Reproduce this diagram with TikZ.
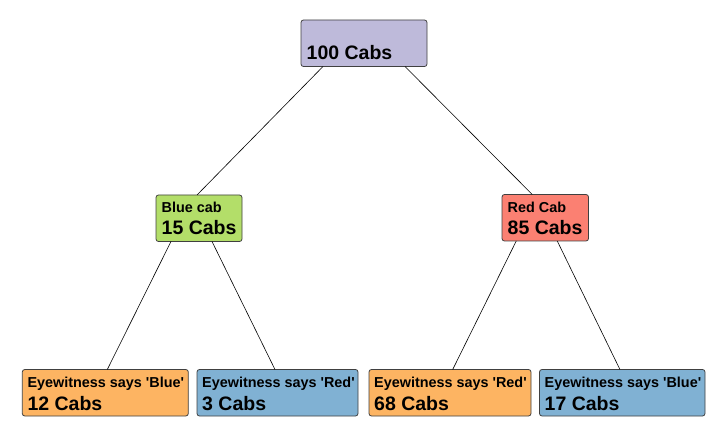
\documentclass[tikz,border=0pt]{standalone}
\usepackage{fontspec}
\setmainfont{Liberation Sans}[Ligatures=TeXOff]
\usetikzlibrary{calc}
\definecolor{cTop}{HTML}{BEBADA}
\definecolor{cGreen}{HTML}{B3DE69}
\definecolor{cRed}{HTML}{FB8072}
\definecolor{cOrange}{HTML}{FDB462}
\definecolor{cBlue}{HTML}{80B1D3}
\definecolor{cBorder}{HTML}{404040}
\tikzset{
  box/.style={draw=cBorder, line width=0.8pt, rounded corners=2.5pt, anchor=north west,
    minimum height=46.5pt, inner sep=0pt, outer sep=0pt},
  smalltxt/.style={anchor=base west, inner sep=0pt, font=\bfseries\fontsize{14.4}{16}\selectfont},
  bigtxt/.style={anchor=base west, inner sep=0pt, font=\bfseries\fontsize{19.5}{22}\selectfont},
  edgeline/.style={draw=black, line width=0.6pt}
}
\begin{document}
\begin{tikzpicture}[x=1pt,y=-1pt]
\useasboundingbox (0,0) rectangle (725,430);
% boxes
\node[box, fill=cTop, minimum width=126pt] (top) at (301,20) {};
\node[box, fill=cGreen, minimum width=86pt] (blue) at (156,195) {};
\node[box, fill=cRed, minimum width=86.5pt] (red) at (502,194.5) {};
\node[box, fill=cOrange, minimum width=166pt] (b1) at (22.3,369.5) {};
\node[box, fill=cBlue, minimum width=161pt] (b2) at (197,369.5) {};
\node[box, fill=cOrange, minimum width=162pt] (b3) at (369,369.5) {};
\node[box, fill=cBlue, minimum width=165.5pt] (b4) at (539.5,369.5) {};
% texts
\node[bigtxt] (topb) at ($(top.north west)+(5.5,39.5)$) {100 Cabs};
\node[smalltxt] (blues) at ($(blue.north west)+(5.5,17.5)$) {Blue cab};
\node[bigtxt] (blueb) at ($(blue.north west)+(5.5,40)$) {15 Cabs};
\node[smalltxt] (reds) at ($(red.north west)+(5.5,18)$) {Red Cab};
\node[bigtxt] (redb) at ($(red.north west)+(5.5,40.5)$) {85 Cabs};
\node[smalltxt] (b1s) at ($(b1.north west)+(5,18.3)$) {Eyewitness says 'Blue'};
\node[bigtxt] (b1b) at ($(b1.north west)+(5,40.7)$) {12 Cabs};
\node[smalltxt] (b2s) at ($(b2.north west)+(5,18.3)$) {Eyewitness says 'Red'};
\node[bigtxt] (b2b) at ($(b2.north west)+(5,40.7)$) {3 Cabs};
\node[smalltxt] (b3s) at ($(b3.north west)+(5,18.3)$) {Eyewitness says 'Red'};
\node[bigtxt] (b3b) at ($(b3.north west)+(5,40.7)$) {68 Cabs};
\node[smalltxt] (b4s) at ($(b4.north west)+(5,18.3)$) {Eyewitness says 'Blue'};
\node[bigtxt] (b4b) at ($(b4.north west)+(5,40.7)$) {17 Cabs};
% connectors
\draw[edgeline] ([xshift=22pt]top.south west) -- ([xshift=-2pt]blue.north);
\draw[edgeline] ([xshift=-22pt]top.south east) -- ([xshift=-13pt]red.north);
\draw[edgeline] ([xshift=-28pt]blue.south) -- ([xshift=2pt]b1.north);
\draw[edgeline] ([xshift=13pt]blue.south) -- ([xshift=-2.5pt]b2.north);
\draw[edgeline] ([xshift=-29pt]red.south) -- ([xshift=2.7pt]b3.north);
\draw[edgeline] ([xshift=12pt]red.south) -- ([xshift=-2.3pt]b4.north);
\end{tikzpicture}
\end{document}
